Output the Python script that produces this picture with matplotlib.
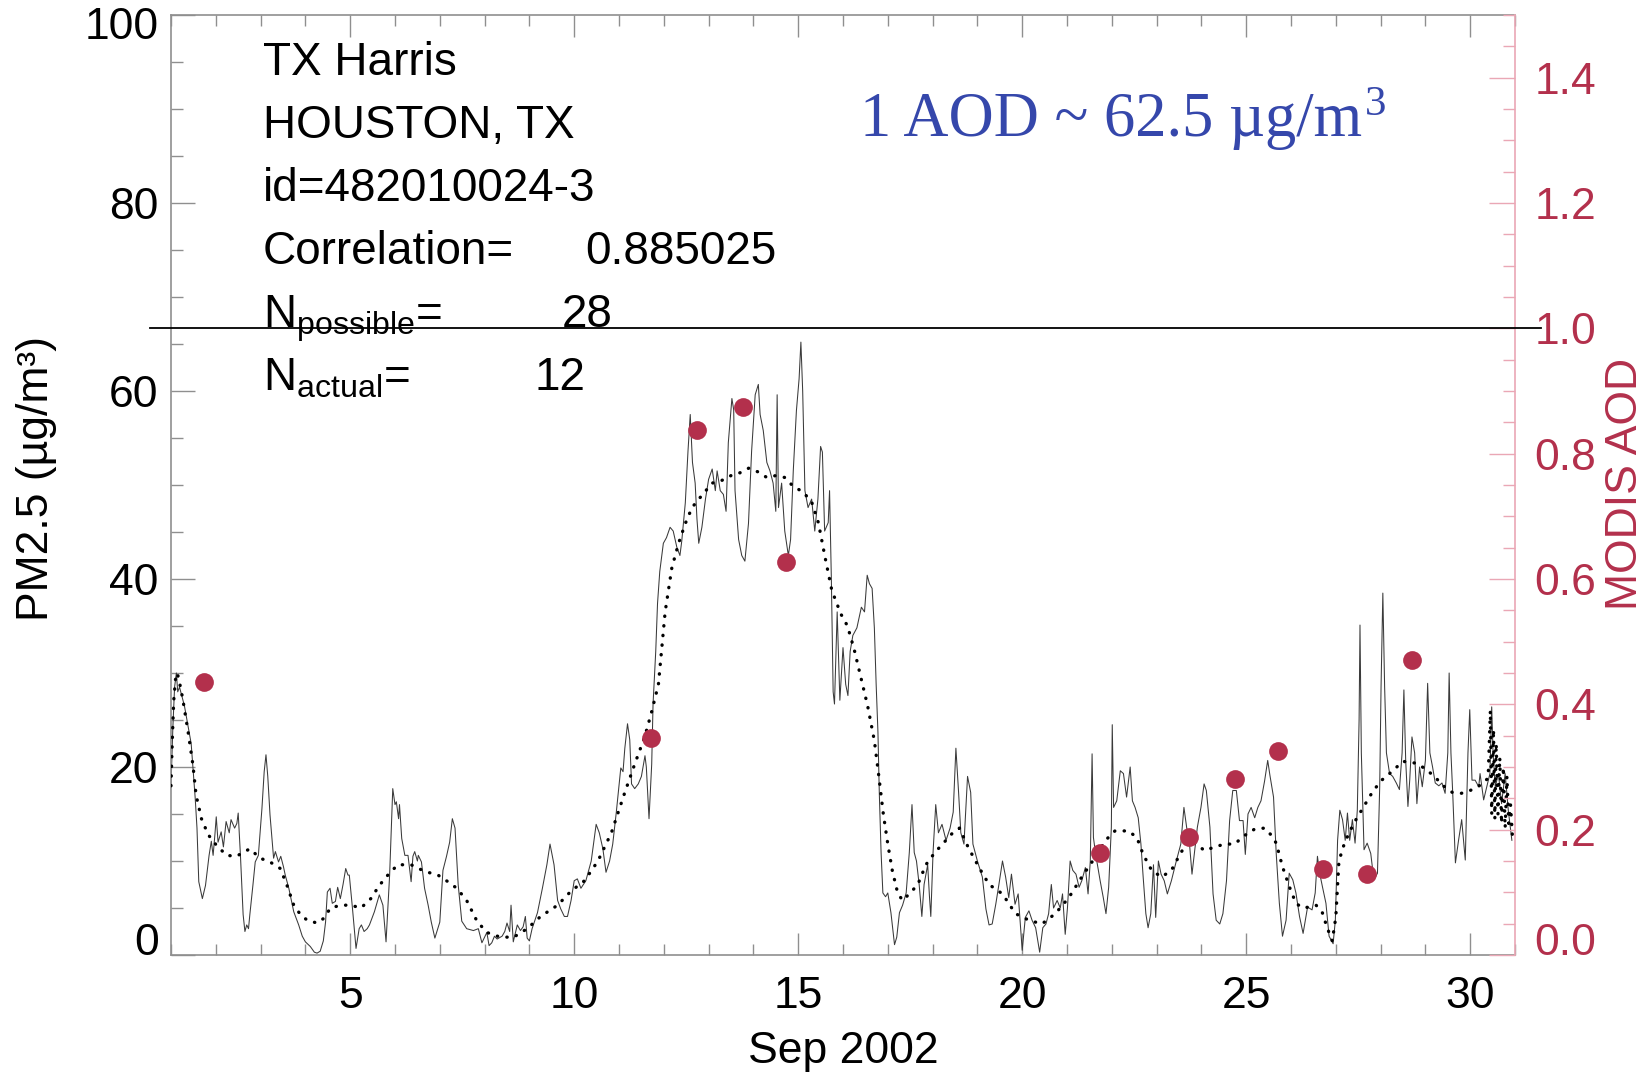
import matplotlib
matplotlib.use("Agg")
import matplotlib.pyplot as plt
from matplotlib import transforms
from matplotlib.ticker import FixedLocator, MultipleLocator

plt.rcParams["font.family"] = ["Liberation Sans", "DejaVu Sans"]
plt.rcParams["mathtext.fontset"] = "custom"
plt.rcParams["mathtext.rm"] = "Liberation Sans"
plt.rcParams["mathtext.it"] = "Liberation Sans:italic"

# Hourly PM2.5 trace: day of month (Sep 2002) and concentration (ug/m3)
pm_day = [
    1.00, 1.04, 1.08, 1.12, 1.15, 1.19, 1.30, 1.45, 1.54, 1.58, 1.62, 1.70, 1.77, 1.85, 1.90, 1.94, 1.98,
    2.01, 2.05, 2.12, 2.17, 2.23, 2.30, 2.34, 2.42, 2.47, 2.50, 2.55, 2.61, 2.65, 2.69, 2.73, 2.76, 2.83,
    2.88, 2.95, 3.03, 3.08, 3.12, 3.16, 3.21, 3.29, 3.33, 3.40, 3.45, 3.51, 3.55, 3.63, 3.74, 3.85, 3.93,
    4.00, 4.11, 4.20, 4.26, 4.33, 4.40, 4.45, 4.49, 4.55, 4.60, 4.67, 4.72, 4.78, 4.84, 4.90, 4.95, 4.98,
    5.05, 5.13, 5.20, 5.25, 5.31, 5.38, 5.43, 5.54, 5.65, 5.73, 5.80, 5.88, 5.95, 6.00, 6.03, 6.08, 6.10,
    6.15, 6.22, 6.29, 6.33, 6.36, 6.40, 6.44, 6.50, 6.52, 6.59, 6.66, 6.74, 6.81, 6.89, 7.00, 7.07, 7.15,
    7.22, 7.28, 7.34, 7.41, 7.49, 7.60, 7.75, 7.86, 7.94, 8.05, 8.10, 8.16, 8.22, 8.28, 8.39, 8.45, 8.50,
    8.56, 8.59, 8.64, 8.73, 8.80, 8.86, 8.91, 8.95, 9.00, 9.06, 9.18, 9.29, 9.39, 9.46, 9.55, 9.63, 9.70,
    9.78, 9.85, 9.93, 10.00, 10.07, 10.15, 10.26, 10.38, 10.49, 10.56, 10.64, 10.71, 10.79, 10.86, 10.94,
    11.04, 11.09, 11.13, 11.19, 11.24, 11.28, 11.35, 11.43, 11.50, 11.58, 11.61, 11.67, 11.73, 11.76,
    11.82, 11.86, 11.91, 11.99, 12.06, 12.14, 12.21, 12.29, 12.36, 12.40, 12.48, 12.54, 12.59, 12.64,
    12.70, 12.74, 12.78, 12.85, 12.93, 13.00, 13.08, 13.15, 13.19, 13.26, 13.33, 13.39, 13.44, 13.52,
    13.56, 13.59, 13.67, 13.74, 13.81, 13.89, 13.96, 14.04, 14.11, 14.15, 14.22, 14.30, 14.37, 14.44,
    14.50, 14.53, 14.56, 14.63, 14.70, 14.78, 14.83, 14.89, 14.96, 15.02, 15.06, 15.10, 15.15, 15.22,
    15.30, 15.37, 15.44, 15.50, 15.54, 15.59, 15.67, 15.70, 15.74, 15.78, 15.81, 15.87, 15.93, 16.00,
    16.06, 16.11, 16.16, 16.22, 16.31, 16.41, 16.48, 16.54, 16.59, 16.65, 16.70, 16.74, 16.78, 16.81,
    16.85, 16.89, 16.95, 17.00, 17.07, 17.15, 17.20, 17.26, 17.33, 17.41, 17.48, 17.54, 17.59, 17.64,
    17.70, 17.76, 17.81, 17.89, 17.93, 17.96, 18.01, 18.07, 18.13, 18.21, 18.30, 18.39, 18.46, 18.52,
    18.58, 18.63, 18.70, 18.78, 18.85, 18.90, 19.00, 19.11, 19.19, 19.26, 19.33, 19.41, 19.48, 19.56,
    19.63, 19.70, 19.76, 19.84, 19.91, 20.00, 20.07, 20.15, 20.22, 20.30, 20.39, 20.46, 20.53, 20.59,
    20.65, 20.70, 20.78, 20.85, 20.90, 20.96, 21.01, 21.07, 21.13, 21.20, 21.27, 21.33, 21.41, 21.47,
    21.52, 21.56, 21.59, 21.64, 21.74, 21.81, 21.87, 21.93, 21.99, 22.01, 22.04, 22.11, 22.19, 22.26,
    22.33, 22.41, 22.46, 22.52, 22.59, 22.65, 22.70, 22.76, 22.81, 22.87, 22.93, 22.98, 23.04, 23.10,
    23.17, 23.24, 23.33, 23.44, 23.54, 23.61, 23.67, 23.74, 23.79, 23.85, 23.91, 23.99, 24.06, 24.11,
    24.19, 24.26, 24.33, 24.41, 24.48, 24.56, 24.63, 24.70, 24.78, 24.85, 24.93, 24.98, 25.04, 25.11,
    25.19, 25.26, 25.33, 25.41, 25.48, 25.53, 25.61, 25.67, 25.74, 25.81, 25.89, 25.96, 26.04, 26.11,
    26.19, 26.27, 26.37, 26.47, 26.54, 26.59, 26.64, 26.70, 26.78, 26.85, 26.94, 26.99, 27.04, 27.09,
    27.15, 27.21, 27.26, 27.31, 27.37, 27.43, 27.48, 27.52, 27.54, 27.57, 27.63, 27.70, 27.78, 27.85,
    27.93, 27.98, 28.01, 28.05, 28.09, 28.13, 28.20, 28.27, 28.35, 28.42, 28.48, 28.52, 28.56, 28.61,
    28.65, 28.70, 28.76, 28.81, 28.87, 28.93, 29.00, 29.05, 29.10, 29.16, 29.22, 29.30, 29.37, 29.44,
    29.50, 29.53, 29.57, 29.61, 29.67, 29.74, 29.81, 29.89, 29.95, 29.99, 30.04, 30.11, 30.19, 30.22,
    30.30, 30.37, 30.44, 30.48, 30.51, 30.56, 30.63, 30.70, 30.78, 30.85, 30.93,
]
pm_val = [
    18.0, 24.0, 28.5, 30.0, 28.0, 28.5, 26.5, 22.5, 16.7, 13.5, 7.8, 6.0, 7.4, 10.6, 12.1, 10.6, 12.8,
    14.7, 12.0, 13.1, 11.5, 14.2, 13.0, 14.4, 13.5, 14.0, 15.1, 10.6, 4.3, 2.5, 3.2, 2.8, 4.3, 7.5,
    9.9, 10.6, 15.6, 19.5, 21.3, 19.0, 14.9, 10.3, 11.0, 9.9, 10.5, 9.4, 8.5, 7.1, 4.6, 3.2, 2.0,
    1.4, 0.9, 0.3, 0.2, 0.4, 1.5, 3.5, 6.7, 7.1, 5.5, 5.7, 7.2, 6.0, 7.5, 9.2, 8.5, 8.5,
    5.0, 0.7, 2.8, 3.2, 2.5, 2.8, 3.2, 4.6, 6.4, 5.3, 1.4, 8.5, 17.7, 16.0, 16.3, 14.5, 16.0,
    12.4, 10.6, 10.6, 9.0, 7.8, 10.5, 11.0, 10.0, 10.6, 9.9, 7.1, 5.3, 3.5, 1.8, 3.5, 9.0, 10.5,
    12.0, 14.5, 13.5, 7.5, 3.6, 2.8, 2.6, 2.8, 1.3, 2.4, 1.0, 1.3, 2.0, 1.7, 2.0, 2.5, 3.4,
    2.5, 5.3, 1.4, 3.2, 2.6, 3.0, 4.1, 1.8, 1.5, 2.8, 4.5, 7.1, 9.6, 11.8, 9.6, 5.8, 4.9,
    4.1, 4.1, 5.8, 7.9, 8.1, 7.1, 7.9, 10.0, 13.9, 13.0, 11.3, 8.8, 10.0, 11.8, 15.2,
    19.9, 19.5, 22.0, 24.6, 22.9, 18.2, 17.7, 18.2, 19.0, 21.2, 20.0, 14.5, 20.3, 26.7,
    32.3, 37.4, 40.8, 43.8, 44.4, 45.5, 45.1, 43.4, 42.5, 44.0, 48.1, 53.6, 57.5, 52.4,
    50.2, 46.4, 43.8, 45.5, 48.5, 50.6, 51.7, 49.4, 51.5, 49.4, 49.0, 47.2, 54.5, 59.2,
    58.0, 49.4, 44.2, 42.5, 41.9, 45.9, 53.6, 59.6, 60.7, 57.5, 55.8, 52.4, 51.5, 50.2,
    47.2, 59.6, 47.6, 50.2, 45.1, 42.5, 44.2, 51.5, 57.9, 61.3, 65.2, 60.0, 49.4, 47.6,
    48.5, 45.1, 48.5, 54.1, 53.5, 45.1, 46.0, 49.4, 40.0, 28.0, 26.7, 36.5, 27.1, 32.7,
    28.8, 27.6, 32.3, 34.0, 34.8, 37.0, 36.5, 40.4, 39.5, 39.0, 34.8, 28.8, 23.7, 17.3,
    10.9, 6.6, 6.2, 6.6, 4.5, 1.1, 1.9, 4.5, 5.3, 6.6, 10.9, 16.0, 10.9, 10.0,
    7.5, 4.1, 7.5, 9.6, 6.2, 4.1, 10.9, 16.0, 13.0, 13.9, 12.2, 13.5, 15.2, 22.0,
    17.3, 13.0, 11.8, 19.0, 17.3, 11.8, 10.0, 8.3, 4.9, 3.2, 3.3, 5.4, 7.5, 10.0,
    8.3, 6.1, 8.6, 5.4, 6.5, 0.5, 4.0, 4.7, 3.7, 2.9, 0.3, 2.9, 3.3, 4.4,
    7.5, 5.0, 5.8, 5.0, 6.5, 2.2, 5.0, 10.0, 9.0, 8.6, 7.2, 7.9, 9.3, 6.5,
    10.0, 21.4, 12.5, 10.7, 7.9, 6.1, 4.4, 7.2, 13.6, 24.5, 15.7, 16.4, 19.6, 19.3,
    16.8, 20.0, 16.4, 15.7, 14.6, 11.8, 8.3, 4.4, 2.9, 4.4, 9.6, 4.0, 10.0, 8.6,
    7.9, 6.5, 7.9, 10.0, 11.8, 15.7, 13.6, 11.5, 8.6, 11.1, 13.6, 15.7, 18.2, 17.5,
    13.6, 6.5, 3.7, 3.3, 4.4, 7.9, 14.3, 17.5, 17.5, 14.3, 14.3, 10.7, 15.0, 15.7,
    14.6, 15.7, 16.4, 18.5, 20.7, 19.1, 16.8, 10.8, 5.5, 2.0, 3.7, 8.7, 8.0, 6.6,
    4.1, 2.3, 5.1, 4.8, 6.6, 10.5, 8.7, 7.3, 5.5, 2.0, 1.2, 3.7, 12.2, 15.4,
    14.4, 12.2, 15.1, 12.2, 14.4, 11.9, 15.4, 25.0, 35.1, 21.5, 11.2, 11.9, 10.8, 8.0,
    8.7, 17.9, 28.5, 38.5, 28.5, 21.5, 19.3, 19.0, 18.3, 17.6, 21.5, 28.2, 20.7, 15.8,
    18.6, 23.2, 21.5, 16.1, 20.0, 17.9, 20.7, 28.9, 21.5, 20.0, 18.3, 18.0, 18.3, 17.2,
    21.5, 30.0, 21.5, 17.2, 9.8, 12.2, 14.4, 10.1, 21.5, 26.1, 18.6, 18.6, 17.9, 19.3,
    16.5, 17.9, 19.3, 26.4, 21.5, 17.9, 19.3, 16.1, 19.3, 15.4, 12.2,
]

# Running-mean PM2.5 (dotted curve)
smooth_day = [
    1.00, 1.03, 1.06, 1.10, 1.14, 1.19, 1.26, 1.38, 1.49, 1.56, 1.68, 1.83, 2.01, 2.24, 2.46, 2.76,
    2.99, 3.21, 3.44, 3.59, 3.74, 3.89, 4.04, 4.26, 4.41, 4.56, 4.79, 5.01, 5.24, 5.46, 5.65, 5.84,
    6.06, 6.36, 6.66, 6.96, 7.15, 7.38, 7.60, 7.83, 8.05, 8.35, 8.65, 8.95, 9.25, 9.63, 9.93, 10.23,
    10.53, 10.83, 11.13, 11.35, 11.58, 11.73, 11.88, 12.03, 12.18, 12.33, 12.48, 12.63, 12.85, 13.08,
    13.30, 13.50, 13.70, 13.90, 14.10, 14.30, 14.50, 14.70, 14.90, 15.10, 15.30, 15.45, 15.60, 15.75,
    15.95, 16.10, 16.25, 16.40, 16.55, 16.70, 16.80, 16.90, 17.00, 17.10, 17.22, 17.33, 17.50, 17.67,
    17.85, 18.05, 18.22, 18.45, 18.60, 18.80, 19.05, 19.26, 19.56, 19.85, 20.15, 20.44, 20.74, 21.04,
    21.33, 21.63, 21.86, 22.07, 22.37, 22.56, 22.70, 22.89, 23.11, 23.33, 23.52, 23.71, 23.89, 24.07,
    24.30, 24.52, 24.74, 24.96, 25.19, 25.41, 25.55, 25.67, 25.81, 25.96, 26.11, 26.26, 26.40, 26.56,
    26.70, 26.80, 26.92, 27.00, 27.07, 27.20, 27.40, 27.60, 27.80, 28.00, 28.20, 28.50, 28.80, 29.00,
    29.20, 29.40, 29.60, 29.80, 30.00, 30.20, 30.40, 30.45, 30.48, 30.52, 30.55, 30.58, 30.62, 30.66,
    30.70, 30.74, 30.78, 30.82, 30.86, 30.90, 30.95,
]
smooth_val = [
    18.0, 23.0, 27.0, 29.3, 30.0, 29.0, 27.3, 23.8, 20.2, 17.0, 14.5, 12.8, 11.7, 10.6, 10.5, 11.3,
    10.3, 9.9, 9.2, 7.4, 5.3, 4.3, 3.7, 3.4, 3.9, 5.0, 5.3, 5.3, 5.0, 6.0, 7.4, 8.5,
    9.6, 9.6, 8.9, 8.5, 7.9, 7.1, 5.8, 3.6, 2.4, 1.9, 1.9, 2.8, 4.1, 5.3, 6.8, 7.9,
    10.0, 13.0, 17.3, 20.3, 23.3, 25.9, 28.8, 36.5, 41.2, 43.8, 45.9, 47.6, 48.9, 50.2,
    50.5, 51.0, 51.3, 51.8, 51.4, 50.8, 51.0, 50.8, 49.8, 49.3, 48.2, 46.0, 42.3, 38.8,
    36.3, 35.0, 32.5, 29.5, 26.5, 22.8, 19.0, 15.0, 11.8, 9.0, 6.6, 5.8, 6.6, 7.5,
    9.6, 10.9, 11.8, 13.0, 13.5, 11.4, 9.2, 7.5, 6.5, 4.4, 3.7, 3.3, 4.4, 6.1,
    8.3, 10.4, 12.2, 13.2, 13.2, 12.5, 10.7, 9.0, 8.3, 9.0, 10.7, 12.2, 11.8, 11.1,
    11.5, 11.8, 11.8, 12.7, 13.4, 13.5, 12.8, 11.9, 9.4, 7.3, 5.5, 5.0, 5.1, 5.3,
    4.5, 3.0, 1.5, 4.0, 10.0, 12.0, 14.0, 15.6, 17.2, 18.5, 19.3, 20.6, 20.4, 19.8,
    19.0, 18.0, 17.3, 17.2, 17.5, 18.0, 18.8, 26.0, 15.0, 24.0, 14.5, 22.5, 15.0, 21.0,
    14.0, 20.0, 13.5, 19.0, 14.0, 16.0, 12.0,
]

# MODIS AOD retrievals
aod_day = [1.73, 11.71, 12.74, 13.76, 14.72, 21.73, 23.73, 24.74, 25.70, 26.71, 27.70, 28.71]
aod_val = [0.435, 0.347, 0.838, 0.874, 0.627, 0.162, 0.189, 0.281, 0.325, 0.138, 0.130, 0.471]

x_ticks = [5, 10, 15, 20, 25, 30]
pm_ticks = [0, 20, 40, 60, 80, 100]
aod_ticks = [0.0, 0.2, 0.4, 0.6, 0.8, 1.0, 1.2, 1.4]
aod_tick_labels = ["0.0", "0.2", "0.4", "0.6", "0.8", "1.0", "1.2", "1.4"]

site_lines = ["TX Harris", "HOUSTON, TX", "id=482010024-3"]
stat_names = ["Correlation=", "N$_{\\rm possible}$=", "N$_{\\rm actual}$="]
stat_values = ["0.885025", "28", "12"]
conversion_note = "1 AOD ~ 62.5 \u00b5g/m"
conversion_exp = "3"

AOD_RED = "#b3304c"
AXIS_PINK = "#eaa7b5"
AXIS_GRAY = "#8f8f8f"
NOTE_BLUE = "#3547ab"
W, H = 1649, 1073

fig = plt.figure(figsize=(W / 100, H / 100), dpi=100)
ax = fig.add_axes([171 / W, 1 - 955 / H, 1344 / W, 940 / H])
ax2 = ax.twinx()

ax.plot(pm_day, pm_val, color="#3a3a3a", lw=0.75, zorder=2)
ax.plot(smooth_day, smooth_val, color="black", lw=2.4,
        linestyle=(0, (0.1, 2.8)), dash_capstyle="round", zorder=3)
ax2.plot(aod_day, aod_val, "o", color=AOD_RED, ms=13.5, mec="none", zorder=4)

ax.set_xlim(1, 31)
ax.set_ylim(0, 100)
ax2.set_ylim(0, 1.5)

# reference line at AOD = 1
blend = transforms.blended_transform_factory(ax2.transAxes, ax2.transData)
ax2.plot([-0.0156, 1.019], [1.0, 1.0], color="black", lw=1.3,
         transform=blend, clip_on=False, zorder=6)

# axis frames
for side in ["left", "top", "bottom"]:
    ax.spines[side].set_color(AXIS_GRAY)
    ax.spines[side].set_linewidth(1.2)
ax.spines["right"].set_visible(False)
for side in ["left", "top", "bottom"]:
    ax2.spines[side].set_visible(False)
ax2.spines["right"].set_color(AXIS_PINK)
ax2.spines["right"].set_linewidth(1.2)

ax.xaxis.set_major_locator(FixedLocator(x_ticks))
ax.xaxis.set_minor_locator(MultipleLocator(1))
ax.set_xticklabels([str(t) for t in x_ticks])
ax.yaxis.set_major_locator(FixedLocator(pm_ticks))
ax.yaxis.set_minor_locator(MultipleLocator(5))
ax.set_yticklabels([str(t) for t in pm_ticks])
ax2.yaxis.set_major_locator(FixedLocator(aod_ticks))
ax2.yaxis.set_minor_locator(MultipleLocator(0.05))
ax2.set_yticklabels(aod_tick_labels)

ax.tick_params(axis="y", which="major", direction="in", length=17, width=1, color=AXIS_GRAY,
               labelsize=32, pad=9, left=True, right=False)
ax.tick_params(axis="y", which="minor", direction="in", length=8.5, width=1, color=AXIS_GRAY,
               left=True, right=False)
ax.tick_params(axis="x", which="major", direction="in", length=16, width=1, color=AXIS_GRAY,
               labelsize=32, pad=15, top=True, bottom=True)
ax.tick_params(axis="x", which="minor", direction="in", length=8, width=1, color=AXIS_GRAY,
               top=True, bottom=True)
ax2.tick_params(axis="y", which="major", direction="in", length=18.5, width=1, color=AXIS_PINK,
                labelsize=32, labelcolor=AOD_RED, pad=14)
ax2.tick_params(axis="y", which="minor", direction="in", length=9, width=1, color=AXIS_PINK)


def shift(label, dy_px):
    label.set_transform(label.get_transform()
                        + transforms.ScaledTranslation(0, dy_px / 100, fig.dpi_scale_trans))


ylabels = ax.get_yticklabels()
shift(ylabels[0], 16)
shift(ylabels[-1], -8)
shift(ax2.get_yticklabels()[0], 16)

ax.set_xlabel("Sep 2002", fontsize=32, va="top")
ax.xaxis.set_label_coords(0.5, -0.081)
ax.set_ylabel("PM2.5 (\u00b5g/m\u00b3)", fontsize=32, va="center", ha="center")
ax.yaxis.set_label_coords(-0.1004, 0.507)
ax2.set_ylabel("MODIS AOD", fontsize=32, color=AOD_RED, rotation=90, va="center", ha="center")
ax2.yaxis.set_label_coords(1.082, 0.501)

# station information block
baselines = [75 + 63 * i for i in range(6)]
for i, line in enumerate(site_lines):
    fig.text(263 / W, 1 - baselines[i] / H, line, fontsize=33, va="baseline", ha="left")
value_x = [585, 562, 534]
for j, (name, value) in enumerate(zip(stat_names, stat_values)):
    yb = 1 - baselines[3 + j] / H
    fig.text(263 / W, yb, name, fontsize=33, va="baseline", ha="left")
    fig.text(value_x[j] / W, yb, value, fontsize=33, va="baseline", ha="left")

# conversion note with a raised exponent placed right after the unit
serif = ["Liberation Serif", "DejaVu Serif"]
note = fig.text(860 / W, 1 - 136 / H, conversion_note, fontsize=45, color=NOTE_BLUE,
                family=serif, va="baseline", ha="left")
renderer = fig.canvas.get_renderer()
note_box = note.get_window_extent(renderer)
fig.text((note_box.x1 + 3) / W, 1 - 115 / H, conversion_exp, fontsize=31, color=NOTE_BLUE,
         family=serif, va="baseline", ha="left")

fig.savefig("out.png", dpi=100)
